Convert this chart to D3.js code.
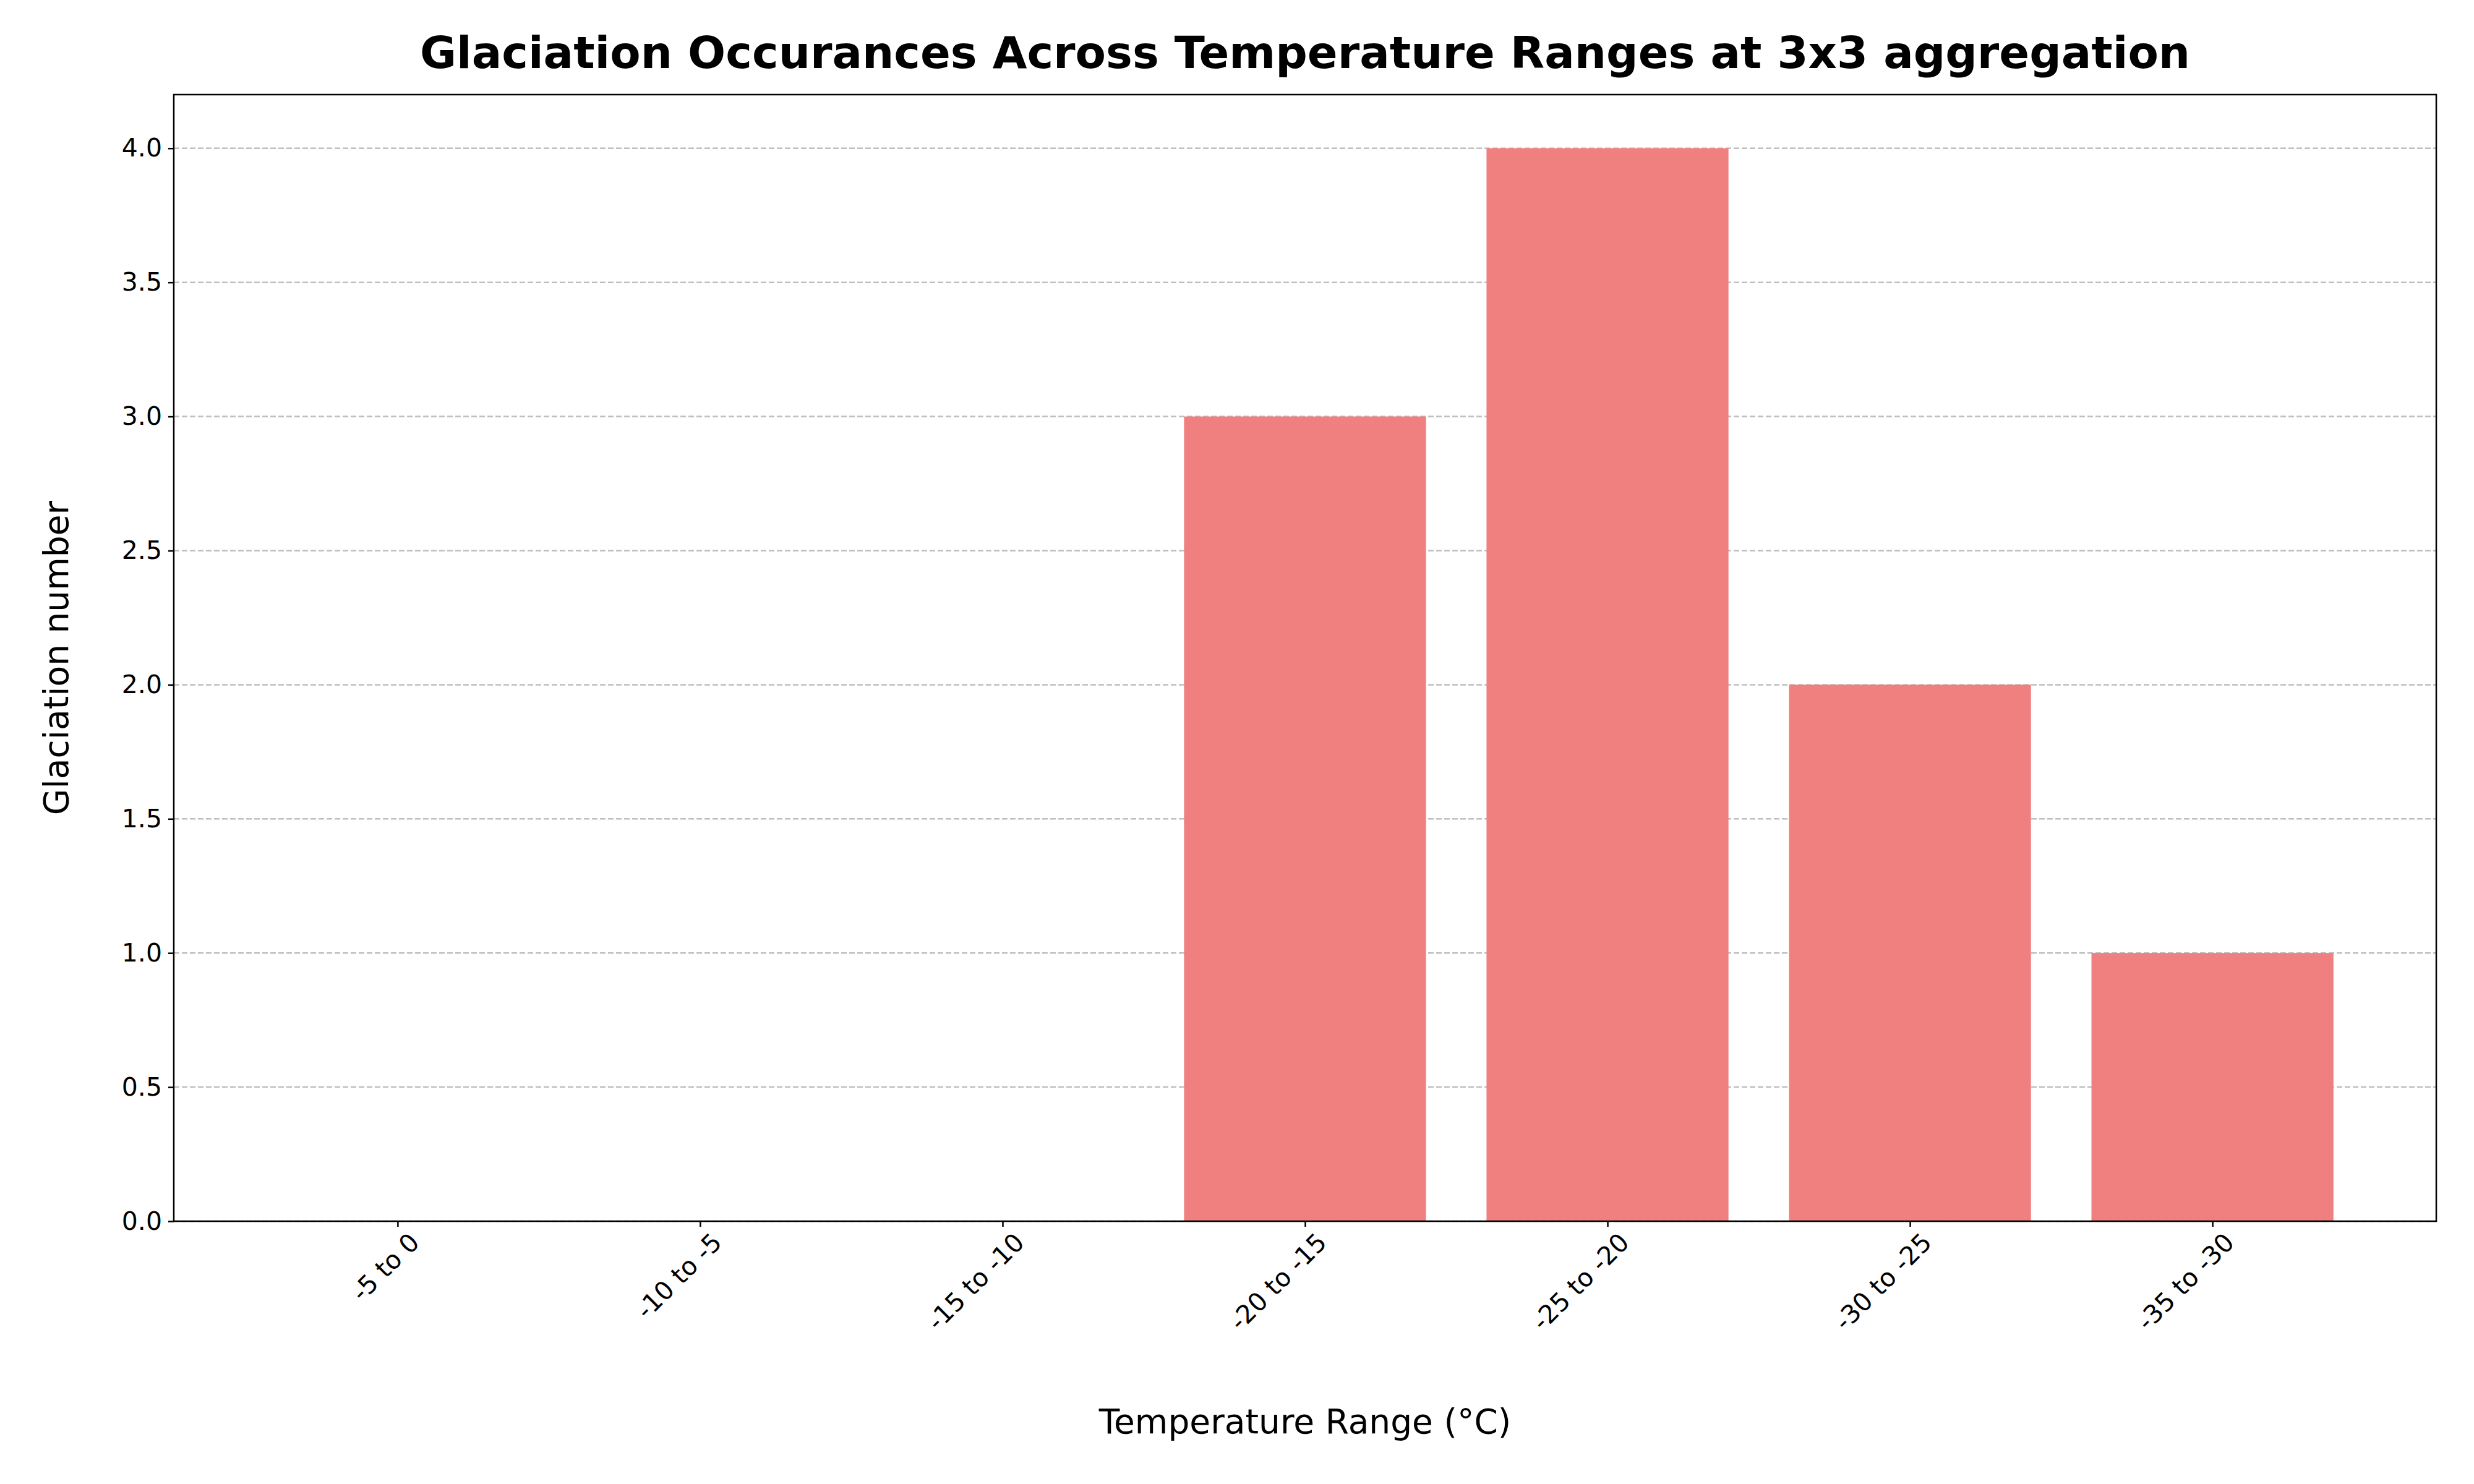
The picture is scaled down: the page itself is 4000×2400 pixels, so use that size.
<!DOCTYPE html>
<html><head><meta charset="utf-8">
<script src="https://cdn.jsdelivr.net/npm/d3@7"></script>
<style>body{margin:0;background:#fff;font-family:"DejaVu Sans",sans-serif;}</style>
</head><body>
<svg id="chart" width="4000" height="2400"></svg>
<script>
// data
var categories = ["-5 to 0", "-10 to -5", "-15 to -10", "-20 to -15", "-25 to -20", "-30 to -25", "-35 to -30"];
var counts = [0, 0, 0, 3, 4, 2, 1];
var yTicks = [0, 0.5, 1, 1.5, 2, 2.5, 3, 3.5, 4];

var svg = d3.select("#chart"),
    margin = {top: 153, right: 61, bottom: 425, left: 281},
    width = +svg.attr("width") - margin.left - margin.right,
    height = +svg.attr("height") - margin.top - margin.bottom;

var g = svg.append("g").attr("transform", "translate(" + margin.left + "," + margin.top + ")");

var x = d3.scaleLinear().domain([-0.74, categories.length - 1 + 0.74]).range([0, width]);
var y = d3.scaleLinear().domain([0, 4.2]).range([height, 0]);
var barW = x(0.8) - x(0);

// grid
g.selectAll(".grid").data(yTicks).enter().append("line")
  .attr("x1", 0).attr("x2", width)
  .attr("y1", d => y(d)).attr("y2", d => y(d))
  .attr("stroke", "#b0b0b0").attr("stroke-width", 2.5)
  .attr("stroke-dasharray", "9,4").attr("opacity", 0.8);

g.selectAll("rect.bar").data(counts).enter().append("rect")
  .attr("x", (d, i) => x(i) - barW / 2)
  .attr("y", d => y(d))
  .attr("width", barW)
  .attr("height", d => height - y(d))
  .attr("fill", "#F08080");

// axes
var yAxis = g.append("g").call(d3.axisLeft(y).tickValues(yTicks).tickFormat(d3.format(".1f")).tickSizeOuter(0).tickSize(9).tickPadding(10));
var xAxis = g.append("g").attr("transform", "translate(0," + height + ")")
  .call(d3.axisBottom(x).tickValues(d3.range(categories.length)).tickFormat(i => categories[i]).tickSizeOuter(0).tickSize(9));
[xAxis, yAxis].forEach(a => {
  a.selectAll("text").attr("font-size", 41).attr("font-family", "DejaVu Sans").attr("fill", "#000");
  a.selectAll("line").attr("stroke-width", 2.5);
  a.select(".domain").remove();
});
xAxis.selectAll("text")
  .attr("text-anchor", "end").attr("dy", "0.35em")
  .attr("transform", "translate(0,28) rotate(-45)")
  .attr("x", 20).attr("y", 18);

g.append("rect").attr("width", width).attr("height", height)
  .attr("fill", "none").attr("stroke", "#000").attr("stroke-width", 2.5);

svg.append("text").attr("x", margin.left + width / 2).attr("y", 110)
  .attr("text-anchor", "middle").attr("font-size", 72).attr("font-weight", "bold")
  .text("Glaciation Occurances Across Temperature Ranges at 3x3 aggregation");
svg.append("text").attr("x", margin.left + width / 2).attr("y", 2318)
  .attr("text-anchor", "middle").attr("font-size", 55)
  .text("Temperature Range (°C)");
svg.append("text").attr("transform", "translate(110," + (margin.top + height / 2) + ") rotate(-90)")
  .attr("text-anchor", "middle").attr("font-size", 55)
  .text("Glaciation number");
</script>
</body></html>
